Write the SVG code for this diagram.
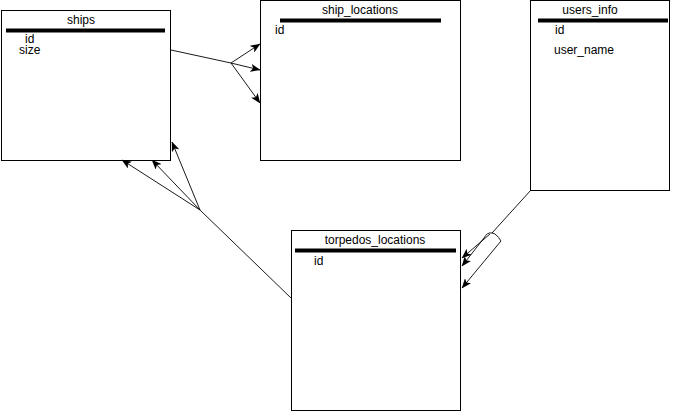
<svg xmlns="http://www.w3.org/2000/svg" width="677" height="414" viewBox="0 0 677 414">
<style>
.box{fill:#fff;stroke:#000;stroke-width:1}
.bar{fill:#000}
.t{font-family:"Liberation Sans",Arial,sans-serif;font-size:12px;fill:#000}
.c{fill:none;stroke:#000;stroke-width:0.9}
</style>
<defs>
<marker id="ar" viewBox="0 0 10 8" refX="9.5" refY="4" markerWidth="10" markerHeight="8" markerUnits="userSpaceOnUse" orient="auto">
<path d="M0,0 L10,4 L0,8 L2.5,4 Z" fill="#000"/>
</marker>
</defs>
<rect width="677" height="414" fill="#fff"/>
<g id="ships">
<rect class="box" x="1.5" y="10.5" width="169" height="150"/>
<text class="t" x="81" y="24" text-anchor="middle">ships</text>
<rect class="bar" x="6" y="28.5" width="159" height="4"/>
<text class="t" x="25" y="43">id</text>
<text class="t" x="19" y="54">size</text>
</g>
<g id="ship_locations">
<rect class="box" x="260.5" y="0.5" width="200" height="160"/>
<text class="t" x="360" y="14" text-anchor="middle">ship_locations</text>
<rect class="bar" x="280" y="18.5" width="161" height="4"/>
<text class="t" x="275" y="34">id</text>
</g>
<g id="users_info">
<rect class="box" x="530.5" y="0.5" width="139" height="190"/>
<text class="t" x="590" y="14" text-anchor="middle">users_info</text>
<rect class="bar" x="538" y="18.5" width="130" height="4"/>
<text class="t" x="555" y="34">id</text>
<text class="t" x="554" y="54">user_name</text>
</g>
<g id="torpedos_locations">
<rect class="box" x="291.5" y="230.5" width="169" height="180"/>
<text class="t" x="375" y="244" text-anchor="middle">torpedos_locations</text>
<rect class="bar" x="295" y="248.5" width="161" height="4"/>
<text class="t" x="314" y="265">id</text>
</g>
<g id="connectors">
<path class="c" d="M171,50 L231,63"/>
<path class="c" d="M231,63 L260,44" marker-end="url(#ar)"/>
<path class="c" d="M231,63 L260,70" marker-end="url(#ar)"/>
<path class="c" d="M231,63 L260,103" marker-end="url(#ar)"/>
<path class="c" d="M291,298 L200,210"/>
<path class="c" d="M200,210 L122,160" marker-end="url(#ar)"/>
<path class="c" d="M200,210 L152,160" marker-end="url(#ar)"/>
<path class="c" d="M200,210 L172,142" marker-end="url(#ar)"/>
<path class="c" d="M531,190 L492,233"/>
<path class="c" d="M490,234 L462,258" marker-end="url(#ar)"/>
<path class="c" d="M492,233 Q487,232 484,238 L462,266" marker-end="url(#ar)"/>
<path class="c" d="M492,233 Q496,233 501,241 L462,288" marker-end="url(#ar)"/>
</g>
</svg>
